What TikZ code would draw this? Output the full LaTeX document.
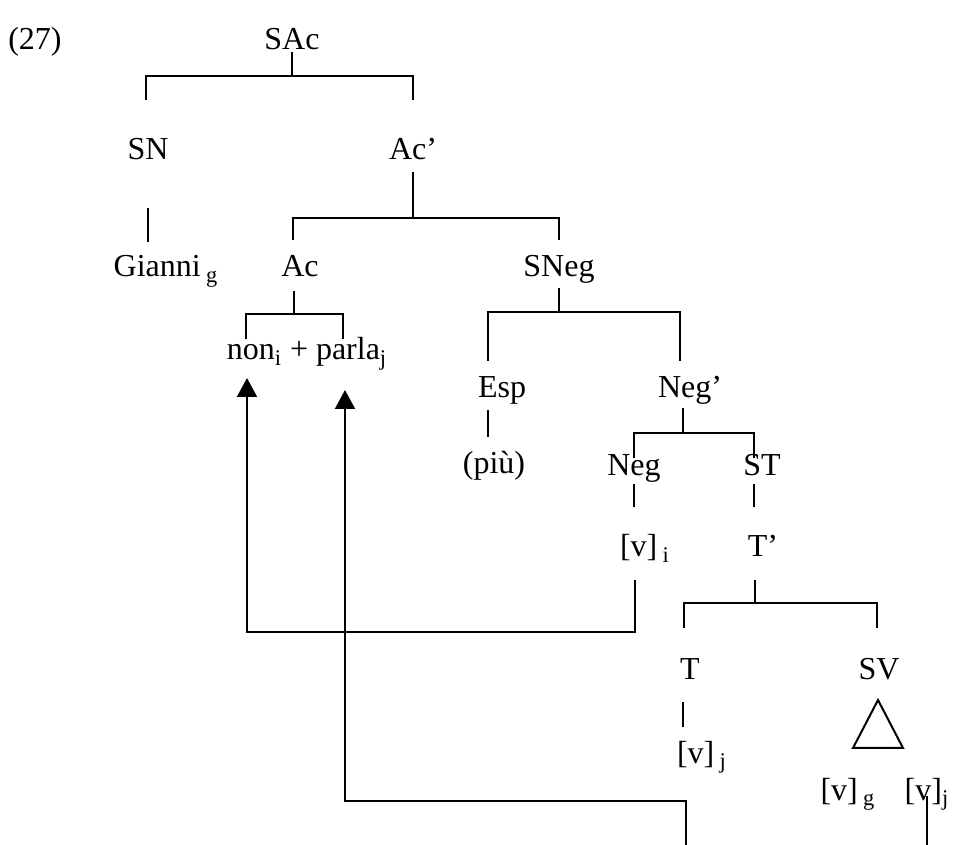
\documentclass[tikz,border=0pt]{standalone}
\usepackage{fontspec}
\setmainfont{Liberation Serif}
\usetikzlibrary{arrows.meta}
\newcommand{\idx}[1]{\textsubscript{#1}}

\tikzset{
  cat/.style={anchor=base,inner sep=0pt,font=\fontsize{16}{19}\selectfont},
  branch/.style={line width=1pt},
  move/.style={line width=1pt,-{Triangle[length=9.5pt,width=10pt]}},
}

\begin{document}
\begin{tikzpicture}[x=0.5pt,y=-0.5pt]
\useasboundingbox (0,0) rectangle (955,845);
% labels
\node[cat] (ex) at (35,50) {(27)};
\node[cat] (sac) at (292,50) {SAc};
\node[cat] (sn) at (148,160) {SN};
\node[cat] (acp) at (413,160) {Ac’};
\node[cat] (gianni) at (166,277) {Gianni\,\idx{g}};
\node[cat] (ac) at (300,277) {Ac};
\node[cat] (sneg) at (559,277) {SNeg};
\node[cat] (nonparla) at (307,360) {non\idx{i} + parla\idx{j}};
\node[cat] (esp) at (502,398) {Esp};
\node[cat] (negp) at (690,398) {Neg’};
\node[cat] (piu) at (494,474) {(più)};
\node[cat] (neg) at (634,476) {Neg};
\node[cat] (st) at (762,476) {ST};
\node[cat] (vi) at (645,557) {[v]\,\idx{i}};
\node[cat] (tp) at (763,557) {T’};
\node[cat] (t) at (690,680) {T};
\node[cat] (sv) at (879,680) {SV};
\node[cat] (vj) at (702,763) {[v]\,\idx{j}};
\node[cat] (vg) at (848,800) {[v]\,\idx{g}};
\node[cat] (vjj) at (927,800) {[v]\idx{j}};
% tree
\draw[branch] (sac |- 0,52) -- (sac |- 0,76);
\draw[branch] (146,100) |- (acp |- 0,76) -- (acp |- 0,100);
\draw[branch] (sn |- 0,208) -- (sn |- 0,242);
\draw[branch] (acp |- 0,172) -- (acp |- 0,218);
\draw[branch] (293,240) |- (sneg |- 0,218) -- (sneg |- 0,240);
\draw[branch] ([xshift=-3pt]ac.center |- 0,291) -- ([xshift=-3pt]ac.center |- 0,314);
\draw[branch] (246,339) |- (343,314) -- (343,339);
\draw[branch] (sneg |- 0,288) -- (sneg |- 0,312);
\draw[branch] ([xshift=-7pt]esp.center |- 0,361) |- ([xshift=-5pt]negp.center |- 0,312) -- ([xshift=-5pt]negp.center |- 0,361);
\draw[branch] ([xshift=-7pt]esp.center |- 0,410) -- ([xshift=-7pt]esp.center |- 0,437);
\draw[branch] ([xshift=-3.5pt]negp.center |- 0,408) -- ([xshift=-3.5pt]negp.center |- 0,433);
\draw[branch] (neg |- 0,458) |- ([xshift=-4pt]st.center |- 0,433) -- ([xshift=-4pt]st.center |- 0,458);
\draw[branch] (neg |- 0,484) -- (neg |- 0,507);
\draw[branch] ([xshift=-4pt]st.center |- 0,484) -- ([xshift=-4pt]st.center |- 0,507);
\draw[branch] ([xshift=-4pt]tp.center |- 0,580) -- ([xshift=-4pt]tp.center |- 0,603);
\draw[branch] ([xshift=-3pt]t.center |- 0,628) |- ([xshift=-1pt]sv.center |- 0,603) -- ([xshift=-1pt]sv.center |- 0,628);
\draw[branch] ([xshift=-3.5pt]t.center |- 0,702) -- ([xshift=-3.5pt]t.center |- 0,727);
\draw[branch] (878,700) -- (853,748) -- (903,748) -- cycle;
% movements
\coordinate (tipnon) at (247,378);
\coordinate (tipparla) at (345,390);
\draw[move] ([xshift=-5pt]vi.center |- 0,580) |- (tipnon |- 0,632) -- (tipnon);
\draw[move] (686,845) |- (tipparla |- 0,801) -- (tipparla);
\draw[branch] (vjj |- 0,796) -- (vjj |- 0,845);
\end{tikzpicture}
\end{document}
